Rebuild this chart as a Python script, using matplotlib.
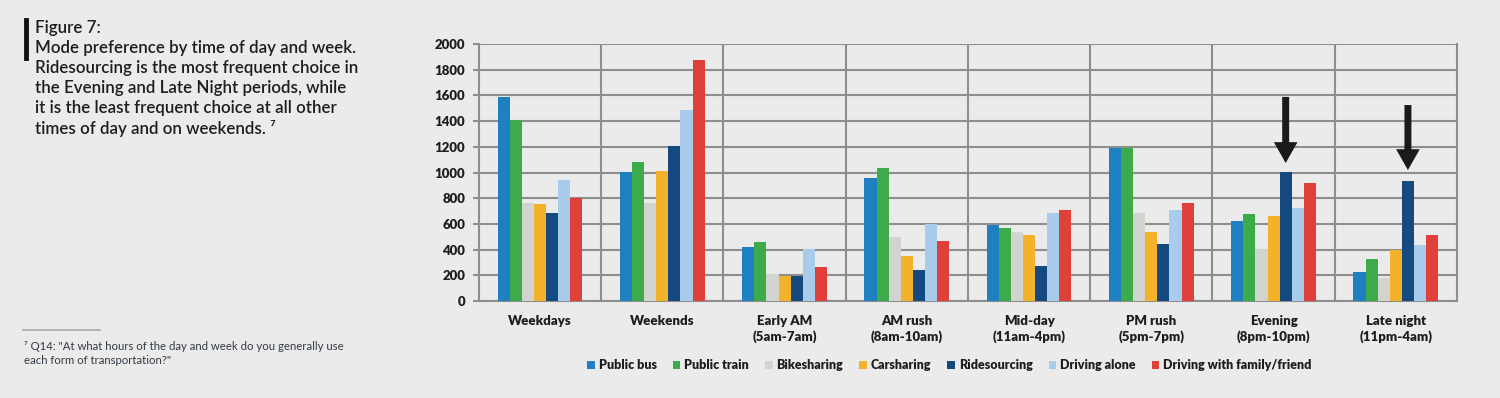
import numpy as np
import matplotlib.pyplot as plt

categories = ['Weekdays', 'Weekends', 'Early AM\n(5am-7am)', 'AM rush\n(8am-10am)',
              'Mid-day\n(11am-4pm)', 'PM rush\n(5pm-7pm)', 'Evening\n(8pm-10pm)',
              'Late night\n(11pm-4am)']
modes = ['Public bus', 'Public train', 'Bikesharing', 'Carsharing', 'Ridesourcing',
         'Driving alone', 'Driving with family/friend']
public_bus = [1585, 1004, 423, 960, 591, 1191, 620, 228]
public_train = [1408, 1079, 457, 1038, 568, 1191, 677, 324]
bikesharing = [765, 760, 207, 501, 537, 685, 402, 182]
carsharing = [755, 1014, 197, 348, 511, 537, 664, 394]
ridesourcing = [687, 1204, 197, 239, 272, 446, 1004, 936]
driving_alone = [939, 1486, 405, 599, 687, 706, 721, 436]
driving_family = [804, 1878, 262, 470, 708, 765, 916, 511]
series = [public_bus, public_train, bikesharing, carsharing, ridesourcing,
          driving_alone, driving_family]
colors = ['#1f80c1', '#3cab4a', '#d3d3cf', '#f4b22b', '#154a80', '#a9cbec', '#e0403a']

# arrows pointing at ridesourcing bars: (category index, tail value, head value)
arrows = [(6, 1588, 1074), (7, 1525, 1019)]

bg = '#ebebeb'
grid_c = '#8e8e8e'
txt_c = '#1e1e1e'

fig = plt.figure(figsize=(15, 3.98), dpi=100, facecolor=bg)
ax = fig.add_axes([0.3193, 0.2437, 0.6520, 0.6457])
ax.set_facecolor(bg)

x = np.arange(len(categories))
w = 0.099
for j, (vals, c, name) in enumerate(zip(series, colors, modes)):
    ax.bar(x + (j - 3) * w, vals, width=w, color=c, label=name, zorder=3, linewidth=0)

for i, y0, y1 in arrows:
    xa = i + w
    ax.annotate('', xy=(xa, y1), xytext=(xa, y0),
                arrowprops=dict(facecolor='#1a1a1a', edgecolor='none', width=5,
                                headwidth=17, headlength=15, shrink=0), zorder=5)

ax.set_xlim(-0.5, len(categories) - 0.5)
ax.set_ylim(0, 2000)
ax.set_yticks(np.arange(0, 2001, 200))
ax.set_xticks(x)
ax.set_xticklabels(categories)
ax.set_xticks(np.arange(0.5, len(categories) - 0.5, 1), minor=True)
ax.grid(axis='y', which='major', color=grid_c, lw=1.5, zorder=1)
ax.grid(axis='x', which='minor', color=grid_c, lw=1.5, zorder=1)
ax.tick_params(axis='x', which='both', length=0, pad=10)
ax.tick_params(axis='y', length=4, color=grid_c, width=1.5, pad=6)
for lab in ax.get_xticklabels() + ax.get_yticklabels():
    lab.set_fontfamily('Lato')
    lab.set_fontweight(800)
    lab.set_fontsize(9.5)
    lab.set_color(txt_c)
    lab.set_linespacing(1.3)
for s in ax.spines.values():
    s.set_color(grid_c)
    s.set_linewidth(1.5)
ax.spines['top'].set_visible(False)

fig.legend(loc='center', bbox_to_anchor=(0.633, 0.083), ncol=7, frameon=False,
           handlelength=0.6, handleheight=0.6, handletextpad=0.3, columnspacing=1.3,
           prop=dict(family='Lato', weight=800, size=9), labelcolor=txt_c)

# title block
fig.add_artist(plt.Line2D([0.0173, 0.0173], [1 - 20 / 398, 1 - 58 / 398],
                          color='#111111', lw=3.5))
title = ('Figure 7:\nMode preference by time of day and week.\n'
         'Ridesourcing is the most frequent choice in\n'
         'the Evening and Late Night periods, while\n'
         'it is the least frequent choice at all other\n'
         'times of day and on weekends. \u2077')
fig.text(0.0233, 1 - 20 / 398, title, ha='left', va='top', fontsize=12.2,
         family=['Lato', 'DejaVu Sans'], weight=600, color=txt_c, linespacing=1.3)

# footnote
fig.add_artist(plt.Line2D([23 / 1500, 100 / 1500], [1 - 330 / 398, 1 - 330 / 398],
                          color='#a8a8a8', lw=1.2))
fig.text(24 / 1500, 1 - 341 / 398,
         '\u2077 Q14: "At what hours of the day and week do you generally use\n'
         'each form of transportation?"',
         ha='left', va='top', fontsize=8.2, family=['Lato', 'DejaVu Sans'],
         color='#333b45', linespacing=1.35)

fig.savefig('out.png', dpi=100, facecolor=bg)
